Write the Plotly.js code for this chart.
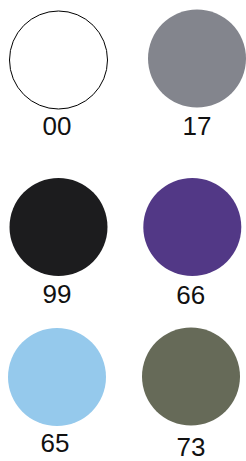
<!DOCTYPE html>
<html>
<head>
<meta charset="utf-8">
<script src="https://cdn.plot.ly/plotly-3.0.1.min.js"></script>
<style>html,body{margin:0;padding:0;background:#fff;}#chart{width:246px;height:461px;}</style>
</head>
<body>
<div id="chart"></div>
<script>
// Swatch codes, colours and their positions on the sheet (pixel grid)
const codes = ["00", "17", "99", "66", "65", "73"];
const swatchColors = ["#ffffff", "#83858d", "#1c1c1e", "#523886", "#95c9ec", "#666a58"];
const swatchX = [58.5, 197, 58.5, 192.3, 57, 191];
const swatchY = [60, 58.5, 227, 227, 377, 376.5];
const labelX = [57, 197, 57, 190.7, 55, 191];
const labelY = [128, 128, 296, 297, 445, 449];

const outline = swatchColors.map(c => c === "#ffffff" ? "#000000" : c);
const outlineW = swatchColors.map(c => c === "#ffffff" ? 1 : 0);

const traces = [
  {
    type: "scatter", mode: "markers",
    x: swatchX, y: swatchY,
    marker: {size: 98, color: swatchColors, line: {color: outline, width: outlineW}, opacity: 1},
    hoverinfo: "skip", showlegend: false, cliponaxis: false
  },
  {
    type: "scatter", mode: "text",
    x: labelX, y: labelY, text: codes,
    textposition: "middle center",
    textfont: {family: "Liberation Sans, Arial, Helvetica, sans-serif", size: 26, color: "#111111"},
    hoverinfo: "skip", showlegend: false, cliponaxis: false
  }
];

const layout = {
  width: 246, height: 461,
  margin: {l: 0, r: 0, t: 0, b: 0, pad: 0},
  paper_bgcolor: "#ffffff", plot_bgcolor: "#ffffff",
  xaxis: {range: [0, 246], visible: false, fixedrange: true},
  yaxis: {range: [461, 0], visible: false, fixedrange: true},
  showlegend: false
};

Plotly.newPlot("chart", traces, layout, {displayModeBar: false, staticPlot: true});
</script>
</body>
</html>
